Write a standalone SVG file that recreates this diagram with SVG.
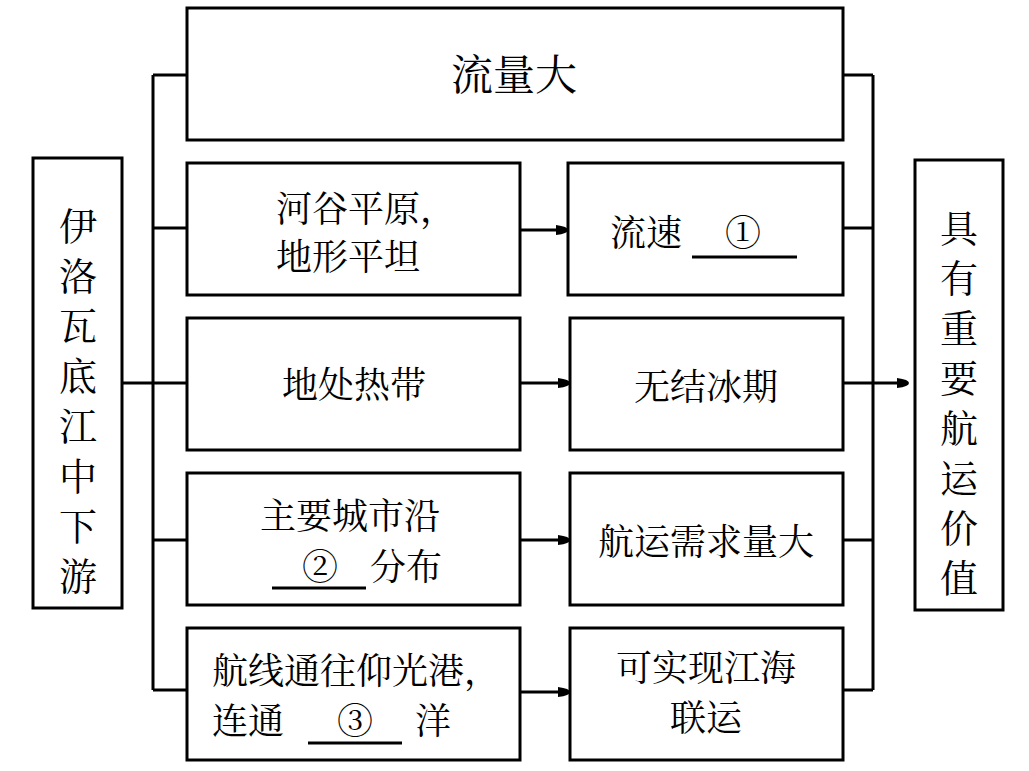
<svg xmlns="http://www.w3.org/2000/svg" width="1029" height="771" viewBox="0 0 1029 771">
<style>
.b{fill:#fff;stroke:#000;stroke-width:3}
.l{fill:none;stroke:#000;stroke-width:3}
text{font-family:"Noto Serif CJK SC","Noto Sans CJK SC","Liberation Serif",serif;font-size:36px;fill:#000}
.c{text-anchor:middle}
.v{font-size:38px}
</style>
<defs><marker id="a" markerWidth="4" markerHeight="4" refX="3" refY="2" orient="auto" markerUnits="strokeWidth"><path d="M0,0.3 Q4,0.8 4,2 Q4,3.2 0,3.7 Z"/></marker></defs>
<rect width="1029" height="771" fill="#fff"/>
<g id="connectors">
<path class="l" d="M153,75V690M122,383H153M153,75H187M153,228H187M153,383H187M153,540H187M153,690H187"/>
<path class="l" d="M873,75V690M843,75H873M843,228H873M843,383H873M843,540H873M843,690H873"/>
<path class="l" d="M873,383H906" marker-end="url(#a)"/>
<path class="l" d="M520,230H565" marker-end="url(#a)"/>
<path class="l" d="M520,383H567" marker-end="url(#a)"/>
<path class="l" d="M520,540H567" marker-end="url(#a)"/>
<path class="l" d="M520,692H567" marker-end="url(#a)"/>
</g>
<g id="left"><rect class="b" x="33" y="158" width="89" height="450"/>
<text class="c v" x="78" y="240">伊</text><text class="c v" x="78" y="290">洛</text><text class="c v" x="78" y="340">瓦</text><text class="c v" x="78" y="390">底</text><text class="c v" x="78" y="440">江</text><text class="c v" x="78" y="490">中</text><text class="c v" x="78" y="540">下</text><text class="c v" x="78" y="590">游</text></g>
<g id="top"><rect class="b" x="187" y="8" width="656" height="132"/><text class="c" x="514" y="90" style="font-size:42px">流量大</text></g>
<g id="n1"><rect class="b" x="187" y="163" width="333" height="132"/><text x="276" y="222">河谷平原，</text><text x="276" y="270">地形平坦</text></g>
<g id="n2"><rect class="b" x="568" y="163" width="275" height="132"/><text x="610" y="246">流速</text><text class="c" x="743" y="246">①</text><path class="l" d="M692,257H797"/></g>
<g id="n3"><rect class="b" x="187" y="318" width="333" height="132"/><text class="c" x="354" y="398">地处热带</text></g>
<g id="n4"><rect class="b" x="570" y="318" width="273" height="132"/><text class="c" x="706" y="400">无结冰期</text></g>
<g id="n5"><rect class="b" x="187" y="473" width="333" height="132"/><text x="260" y="529">主要城市沿</text><text class="c" x="320" y="580">②</text><text x="370" y="580">分布</text><path class="l" d="M272,588H366"/></g>
<g id="n6"><rect class="b" x="570" y="473" width="273" height="132"/><text class="c" x="706" y="555">航运需求量大</text></g>
<g id="n7"><rect class="b" x="187" y="628" width="333" height="132"/><text x="212" y="684">航线通往仰光港，</text><text x="212" y="734">连通</text><text class="c" x="355" y="734">③</text><text x="415" y="734">洋</text><path class="l" d="M308,743H402"/></g>
<g id="n8"><rect class="b" x="570" y="628" width="273" height="132"/><text class="c" x="706" y="681">可实现江海</text><text class="c" x="706" y="731">联运</text></g>
<g id="right"><rect class="b" x="915" y="160" width="88" height="450"/>
<text class="c v" x="959" y="242">具</text><text class="c v" x="959" y="292">有</text><text class="c v" x="959" y="342">重</text><text class="c v" x="959" y="392">要</text><text class="c v" x="959" y="442">航</text><text class="c v" x="959" y="492">运</text><text class="c v" x="959" y="542">价</text><text class="c v" x="959" y="592">值</text></g>
</svg>
